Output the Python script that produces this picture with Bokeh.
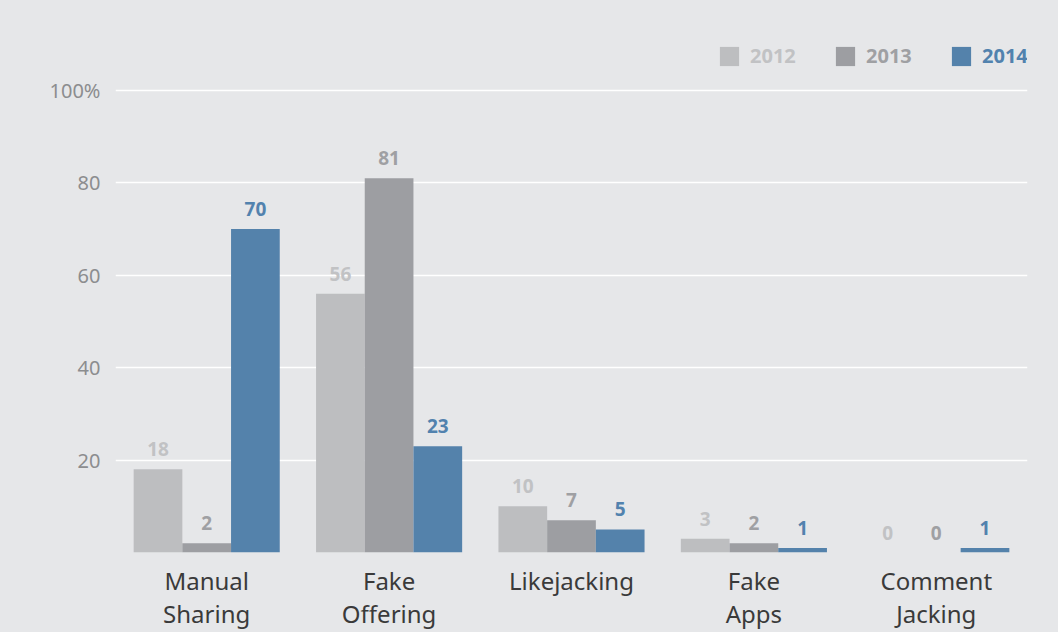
from bokeh.plotting import figure
from bokeh.models import FactorRange, ColumnDataSource, Legend, LegendItem, FixedTicker
from bokeh.transform import dodge
from bokeh.core.properties import value
from bokeh.embed import file_html
from bokeh.resources import INLINE

categories = ["Manual\nSharing", "Fake\nOffering", "Likejacking", "Fake\nApps", "Comment\nJacking"]
years = ["2012", "2013", "2014"]
v2012 = [18, 56, 10, 3, 0]
v2013 = [2, 81, 7, 2, 0]
v2014 = [70, 23, 5, 1, 1]
y_ticks = [0, 20, 40, 60, 80, 100]

BG = "#e6e7e9"
bar_colors = {"2012": "#bdbec0", "2013": "#9d9ea2", "2014": "#5482ab"}
text_colors = {"2012": "#c1c2c4", "2013": "#9fa0a3", "2014": "#5282ae"}
FONT = "Noto Sans"

src = ColumnDataSource(dict(cat=categories, y2012=v2012, y2013=v2013, y2014=v2014,
                            t2012=[str(v) for v in v2012],
                            t2013=[str(v) for v in v2013],
                            t2014=[str(v) for v in v2014]))

p = figure(width=1058, height=632, output_backend="svg", toolbar_location=None,
           x_range=FactorRange(*categories, range_padding=0, factor_padding=0),
           y_range=(0, 100 * 532 / 462),
           min_border_left=115, min_border_right=31, min_border_top=20, min_border_bottom=80,
           background_fill_color=BG, border_fill_color=BG, outline_line_color=None)

bw = 0.267
offsets = {"2012": -bw, "2013": 0.0, "2014": bw}
renderers = {}
for yr in years:
    r = p.vbar(x=dodge("cat", offsets[yr], range=p.x_range), top="y" + yr, width=bw,
               source=src, fill_color=bar_colors[yr], line_color=None)
    renderers[yr] = r
    p.text(x=dodge("cat", offsets[yr], range=p.x_range), y="y" + yr, text="t" + yr, source=src,
           text_align="center", text_baseline="bottom", y_offset=-13,
           text_font=value(FONT), text_font_style="bold", text_font_size="19px",
           text_color=text_colors[yr])

# grid
p.xgrid.grid_line_color = None
p.ygrid.ticker = FixedTicker(ticks=y_ticks)
p.ygrid.grid_line_color = "white"
p.ygrid.grid_line_width = 1.3

# axes
p.yaxis.ticker = FixedTicker(ticks=y_ticks)
p.yaxis.major_label_overrides = {0: "", 100: "100%"}
p.yaxis.axis_line_color = None
p.yaxis.major_tick_line_color = None
p.yaxis.minor_tick_line_color = None
p.yaxis.major_tick_out = 0
p.yaxis.major_tick_in = 0
p.yaxis.minor_tick_out = 0
p.yaxis.major_label_standoff = 15
p.yaxis.major_label_text_font = FONT
p.yaxis.major_label_text_font_size = "20px"
p.yaxis.major_label_text_color = "#8c8d8f"

p.xaxis.axis_line_color = None
p.xaxis.major_tick_line_color = None
p.xaxis.minor_tick_line_color = None
p.xaxis.major_tick_out = 0
p.xaxis.major_tick_in = 0
p.xaxis.minor_tick_out = 0
p.xaxis.major_label_standoff = 11
p.xaxis.major_label_text_font = FONT
p.xaxis.major_label_text_font_size = "24px"
p.xaxis.major_label_text_color = "#3a3a3a"
p.xaxis.major_label_text_line_height = 1.0

# legend: one per year so each label keeps its own colour
leg_x = {"2012": 602, "2013": 718, "2014": 834}
for yr in years:
    leg = Legend(items=[LegendItem(label=yr, renderers=[renderers[yr]])],
                 location=(leg_x[yr], 483), orientation="horizontal",
                 padding=0, margin=0, spacing=0, label_standoff=9,
                 glyph_width=24, glyph_height=24,
                 label_text_font=FONT, label_text_font_style="bold",
                 label_text_font_size="20px", label_text_color=text_colors[yr],
                 background_fill_alpha=0, border_line_alpha=0)
    p.add_layout(leg, "center")

html = file_html(p, INLINE)
html = html.replace("</head>", "<style>body{background:#e6e7e9;}</style></head>", 1)
open("out.html", "w").write(html)
